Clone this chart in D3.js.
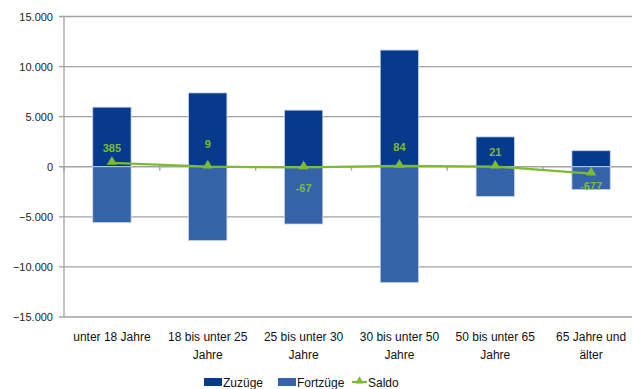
<!DOCTYPE html>
<html>
<head>
<meta charset="utf-8">
<script src="https://cdn.jsdelivr.net/npm/d3@7"></script>
<style>
  body { margin: 0; background: #fff; }
  text { font-family: "Liberation Sans", Arial, sans-serif; }
</style>
</head>
<body>
<svg id="chart" width="632" height="389"></svg>
<script>
// Data
var categories = ["unter 18 Jahre", "18 bis unter 25 Jahre", "25 bis unter 30 Jahre",
                  "30 bis unter 50 Jahre", "50 bis unter 65 Jahre", "65 Jahre und älter"];
var zuzuege = [5950, 7370, 5650, 11650, 2980, 1600];
var fortzuege = [-5565, -7361, -5717, -11566, -2959, -2277];
var saldo = [385, 9, -67, 84, 21, -677];
var yTicks = [-15000, -10000, -5000, 0, 5000, 10000, 15000];
var legendItems = ["Zuzüge", "Fortzüge", "Saldo"];

// label nudges (px, relative to point) - the original labels were placed by hand
var labelDy = [-11, -19, 25, -15, -11, 16];

var colZu = "#063a8c", colFort = "#3563aa", colSaldo = "#7dbb31", colGrid = "#a3a3a3";

var svg = d3.select("#chart");
var plotLeft = 64, plotRight = 639, plotTop = 16.5, plotBottom = 317;

var x = d3.scaleBand()
    .domain(categories)
    .range([plotLeft, plotRight])
    .paddingInner(0.6)
    .paddingOuter(0.3);

var y = d3.scaleLinear()
    .domain([-15000, 15000])
    .range([plotBottom, plotTop]);

var fmt = function(v) {
    return d3.format(",")(v).replace(/,/g, ".");
};

// Gridlines
svg.append("g")
    .selectAll("line")
    .data(yTicks)
    .join("line")
    .attr("x1", plotLeft - 5)
    .attr("x2", plotRight)
    .attr("y1", function(d) { return y(d); })
    .attr("y2", function(d) { return y(d); })
    .attr("stroke", colGrid)
    .attr("stroke-width", 1.3);

// Y axis line
svg.append("line")
    .attr("x1", plotLeft).attr("x2", plotLeft)
    .attr("y1", plotTop).attr("y2", plotBottom)
    .attr("stroke", colGrid).attr("stroke-width", 1.3);

// Y tick labels
svg.append("g")
    .selectAll("text")
    .data(yTicks)
    .join("text")
    .attr("x", 53)
    .attr("y", function(d) { return y(d) + 4; })
    .attr("text-anchor", "end")
    .attr("font-size", 11)
    .attr("fill", "#222")
    .text(fmt);

// Category ticks on zero line
var step = x.step();
svg.append("g")
    .selectAll("line")
    .data(d3.range(categories.length + 1))
    .join("line")
    .attr("x1", function(i) { return plotLeft + i * step; })
    .attr("x2", function(i) { return plotLeft + i * step; })
    .attr("y1", y(0))
    .attr("y2", y(0) + 4)
    .attr("stroke", colGrid).attr("stroke-width", 1.3);

// Bars
svg.append("g")
    .selectAll("rect")
    .data(zuzuege)
    .join("rect")
    .attr("x", function(d, i) { return x(categories[i]); })
    .attr("width", x.bandwidth())
    .attr("y", function(d) { return y(d); })
    .attr("height", function(d) { return y(0) - y(d); })
    .attr("fill", colZu)
    .attr("stroke", "#c9d3e8").attr("stroke-width", 0.8);

svg.append("g")
    .selectAll("rect")
    .data(fortzuege)
    .join("rect")
    .attr("x", function(d, i) { return x(categories[i]); })
    .attr("width", x.bandwidth())
    .attr("y", y(0))
    .attr("height", function(d) { return y(d) - y(0); })
    .attr("fill", colFort)
    .attr("stroke", "#c9d3e8").attr("stroke-width", 0.8);

// Saldo line
var cx = function(i) { return x(categories[i]) + x.bandwidth() / 2; };
var line = d3.line()
    .x(function(d, i) { return cx(i); })
    .y(function(d) { return y(d); });

svg.append("path")
    .datum(saldo)
    .attr("d", line)
    .attr("fill", "none")
    .attr("stroke", colSaldo)
    .attr("stroke-width", 2.2);

var tri = d3.symbol().type(d3.symbolTriangle).size(45);
svg.append("g")
    .selectAll("path")
    .data(saldo)
    .join("path")
    .attr("d", tri)
    .attr("transform", function(d, i) { return "translate(" + cx(i) + "," + (y(d) - 1) + ")"; })
    .attr("fill", colSaldo);

svg.append("g")
    .selectAll("text")
    .data(saldo)
    .join("text")
    .attr("x", function(d, i) { return cx(i); })
    .attr("y", function(d, i) { return y(d) + labelDy[i]; })
    .attr("text-anchor", "middle")
    .attr("font-size", 11)
    .attr("font-weight", "bold")
    .attr("fill", colSaldo)
    .text(function(d) { return d; });

// Category labels (wrapped)
var catText = svg.append("g")
    .selectAll("text")
    .data(categories)
    .join("text")
    .attr("x", function(d) { return x(d) + x.bandwidth() / 2; })
    .attr("y", 341)
    .attr("text-anchor", "middle")
    .attr("font-size", 12)
    .attr("fill", "#111");

catText.each(function(d) {
    var t = d3.select(this);
    var words = d.split(" ");
    var lines = [], cur = [];
    var probe = t.append("tspan");
    words.forEach(function(w) {
        var tryLine = cur.concat([w]).join(" ");
        probe.text(tryLine);
        if (probe.node().getComputedTextLength() > 90 && cur.length) {
            lines.push(cur.join(" "));
            cur = [w];
        } else {
            cur.push(w);
        }
    });
    lines.push(cur.join(" "));
    probe.remove();
    lines.forEach(function(l, k) {
        t.append("tspan")
            .attr("x", t.attr("x"))
            .attr("dy", k === 0 ? 0 : 18)
            .text(l);
    });
});

// Legend
var legend = svg.append("g");
var legX = [204, 278, 352];
legendItems.forEach(function(name, i) {
    var g = legend.append("g").attr("transform", "translate(" + legX[i] + ",382)");
    if (i < 2) {
        g.append("rect")
            .attr("x", 0).attr("y", -4)
            .attr("width", 18).attr("height", 8)
            .attr("fill", i === 0 ? colZu : colFort);
    } else {
        g.append("line")
            .attr("x1", 0).attr("x2", 15)
            .attr("stroke", colSaldo).attr("stroke-width", 2.2);
        g.append("path")
            .attr("d", d3.symbol().type(d3.symbolTriangle).size(30))
            .attr("transform", "translate(7.5,-1)")
            .attr("fill", colSaldo);
    }
    g.append("text")
        .attr("x", i < 2 ? 19 : 16)
        .attr("y", 4.5)
        .attr("font-size", 12)
        .attr("fill", "#111")
        .text(name);
});
</script>
</body>
</html>
